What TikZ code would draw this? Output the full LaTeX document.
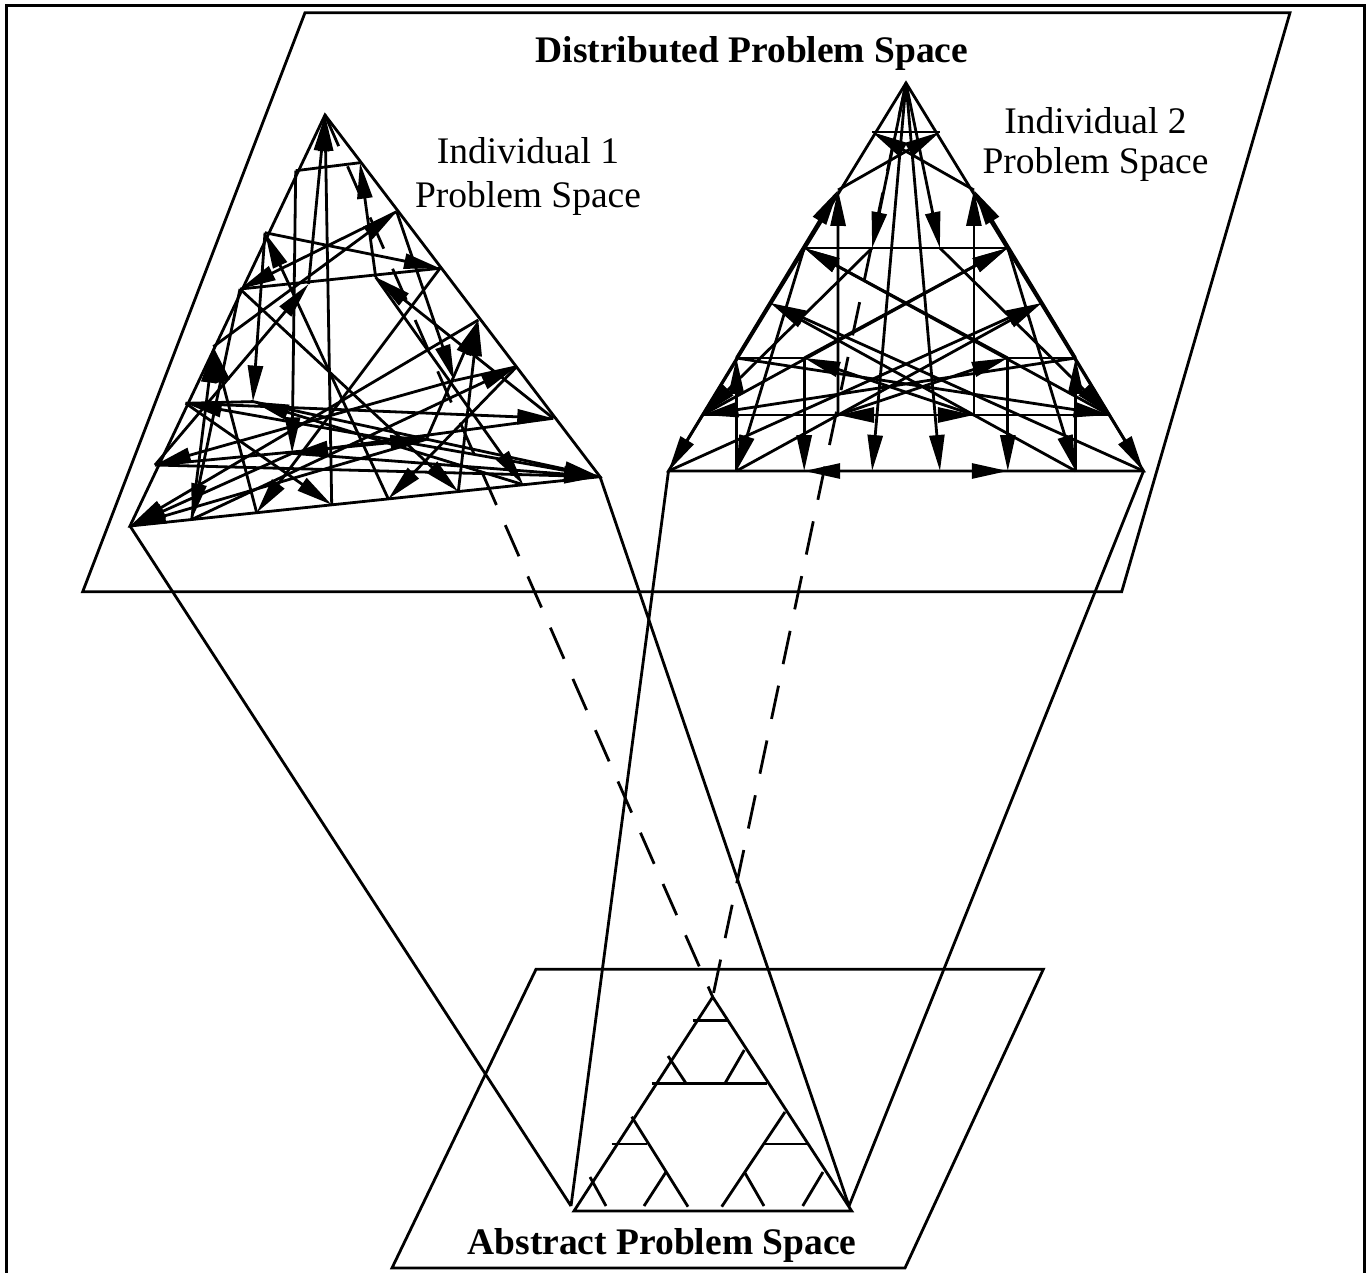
\documentclass[tikz,border=0pt]{standalone}
\usepackage{fontspec}
\setmainfont{Liberation Serif}
\usetikzlibrary{arrows.meta}
\begin{document}
\begin{tikzpicture}[x=1pt,y=-1pt,
  ln/.style={line width=2.8pt,line join=miter},
  arr/.style={ln,-{Triangle[length=36pt,width=15pt]}},
  dsh/.style={line width=2.8pt,dash pattern=on 34pt off 22pt},
  frame/.style={line width=3pt},
  lbl/.style={font=\fontsize{37.5}{43}\selectfont,inner sep=0pt,anchor=base},
  ttl/.style={font=\fontsize{37.5}{43}\selectfont\bfseries,inner sep=0pt,anchor=base},
  pt/.style={inner sep=0pt,minimum size=0pt}]
\useasboundingbox (0,0) rectangle (1369,1273);
\clip (0,0) rectangle (1369,1273);

% outer frame (its bottom edge lies below the page)
\draw[frame] (6,1300) -- (6,6) -- (1364,6) -- (1364,1300);

% distributed problem space plane
\coordinate (tp1) at (305,12.7);
\coordinate (tp2) at (1290,12.7);
\coordinate (tp3) at (1121.7,591.7);
\coordinate (tp4) at (82.7,591.7);
\draw[ln] (tp1) -- (tp2) -- (tp3) -- (tp4) -- cycle;
\node[ttl] (dtitle) at (752,63) {Distributed Problem Space};

% abstract problem space plane
\coordinate (bp1) at (536,969.3);
\coordinate (bp2) at (1043.3,969.3);
\coordinate (bp3) at (905,1268);
\coordinate (bp4) at (392,1268);
\draw[ln] (bp1) -- (bp2) -- (bp3) -- (bp4) -- cycle;
\node[ttl] (atitle) at (662,1254) {Abstract Problem Space};

% individual 1 states
\foreach \n/\x/\y in {00/325/115, 10/295.7/170.7, 01/360/162.7, 20/265/232.7,
  30/240/289, 21/308.6/284.1, 02/396.7/211.7, 12/375.7/277.1, 03/440/268.3,
  40/213.3/346.7, 50/185.7/403.3, 41/252.9/401.6, 60/155/465, 70/130/526,
  61/191.7/519.5, 42/292.1/453.3, 52/256.7/512.7, 43/331.7/504.8,
  04/478.3/320, 14/454.3/380.6, 05/516.7/366.7, 24/426.4/439.3,
  34/388.3/498.9, 25/458.3/491.6, 06/553.3/418.3, 16/523.3/484.7, 07/600/476.7}
  \node[pt] (L\n) at (\x,\y) {};

% individual 2 states
\foreach \n/\x/\y in {00/906/83, 10/872/132, 01/940/132, 20/838.1/190,
  02/973.9/190, 30/804.2/248, 21/872.1/248, 12/939.9/248, 03/1007.8/248,
  40/770.3/303, 04/1041.7/303, 50/736.4/358, 41/804.2/358, 14/1007.8/358,
  05/1075.6/358, 60/702.4/415, 42/838/415, 24/973.9/415, 06/1109.6/415,
  70/668.5/471, 61/736.4/471, 52/804.2/471, 43/872.1/471, 34/940/471,
  25/1007.8/471, 16/1075.6/471, 07/1143.5/471}
  \node[pt] (R\n) at (\x,\y) {};

% abstract problem space triangle
\coordinate (aA) at (712.7,997);
\coordinate (aB) at (574,1211);
\coordinate (aC) at (851.7,1211);
\coordinate (la) at (571,1206);
\coordinate (ra) at (849,1206);

% projections onto the abstract space
\draw[ln] (L70.center) -- (la);
\draw[ln] (R70.center) -- (la);
\draw[ln] (L07.center) -- (ra);
\draw[ln] (R07.center) -- (ra);
\draw[dsh] (L00.center) -- (aA);
\draw[dsh] (R00.center) -- (aA);

% abstract space: sierpinski pattern
\draw[ln] (aA) -- (aB) -- (aC) -- cycle;
\draw[ln] (692.7,1020.7) -- (726.7,1020.7);
\draw[ln] (651.7,1083.3) -- (767.3,1083.3);
\draw[ln] (668,1056) -- (686,1083.3);
\draw[ln] (744.3,1050) -- (725,1083.3);
\draw[ln] (611.7,1144) -- (647.3,1144);
\draw[ln] (764.3,1144) -- (806.7,1144);
\draw[ln] (631.7,1116.7) -- (688,1206.7);
\draw[ln] (785,1112) -- (721.7,1206.7);
\draw[ln] (590,1177) -- (606,1206);
\draw[ln] (666,1172) -- (644,1206);
\draw[ln] (745,1173) -- (764,1206);
\draw[ln] (823,1172) -- (802.7,1206);

% individual 1 problem space
\draw[ln] (L00.center) -- (L70.center) -- (L07.center) -- cycle;
\draw[ln] (L10.center) -- (L01.center);
\draw[ln] (L30.center) -- (L03.center);
\draw[ln] (L50.center) -- (L41.center);
\draw[ln] (L14.center) -- (L05.center);
\foreach \a/\b in {43/00, 21/00, 12/01, 02/30, 20/03, 60/21, 06/12, 20/41,
  02/14, 25/04, 24/04, 61/40, 52/40, 50/06, 41/07, 42/07, 12/16, 60/24,
  06/42, 50/43, 05/34, 30/61, 42/70, 04/70, 24/70, 14/60, 60/07, 10/42,
  40/02, 03/52, 30/25, 61/05, 16/41, 34/20, 07/50}
  \draw[arr] (L\a.center) -- (L\b.center);

% individual 2 problem space
\draw[ln] (R00.center) -- (R70.center) -- (R07.center) -- cycle;
\draw[ln] (R10.center) -- (R01.center);
\draw[ln] (R30.center) -- (R03.center);
\draw[ln] (R50.center) -- (R41.center);
\draw[ln] (R14.center) -- (R05.center);
\foreach \a/\b in {00/43, 00/34, 00/21, 00/12, 02/10, 20/01, 42/20, 24/02,
  50/20, 05/02, 14/30, 41/03, 16/40, 61/04, 61/50, 16/05, 24/41, 42/14,
  06/42, 60/24, 30/61, 03/16, 41/52, 14/25, 34/52, 43/25, 60/03, 06/30,
  70/04, 07/40, 50/06, 05/60, 40/70, 04/07, 21/60, 12/06}
  \draw[arr] (R\a.center) -- (R\b.center);

% labels of the individual spaces
\node[lbl] (i1a) at (528,164) {Individual 1};
\node[lbl] (i1b) at (528,207.3) {Problem Space};
\node[lbl] (i2a) at (1095.5,133.3) {Individual 2};
\node[lbl] (i2b) at (1095.5,174) {Problem Space};
\end{tikzpicture}
\end{document}
